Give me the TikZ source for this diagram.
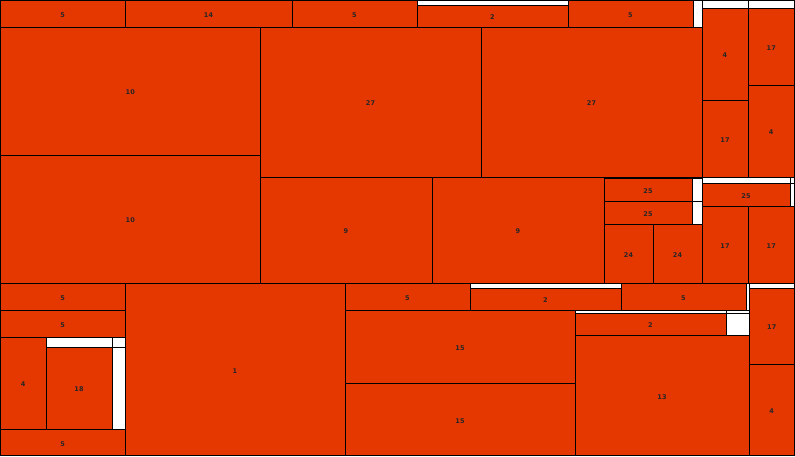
\documentclass[tikz,border=0pt]{standalone}
\usepackage{fontspec}
\setmainfont{DejaVu Sans}
\definecolor{tmred}{RGB}{229,55,0}
\tikzset{
  tmcell/.style={draw=black, line width=0.9pt, fill=tmred},
  tmwhite/.style={draw=black, line width=0.9pt, fill=white},
  tmlabel/.style={font=\fontsize{6.5}{6.5}\selectfont\bfseries, text=black!85, inner sep=0pt}
}
\newcommand\tmc[5]{%
  \path[tmcell] (#1,#2) rectangle (#3,#4);
  \node[tmlabel] (n#1x#2) at ({(#1+#3)/2},{(#2+#4)/2+1.5}) {#5};}
\newcommand\tmw[4]{\path[tmwhite] (#1,#2) rectangle (#3,#4);}
\begin{document}
\begin{tikzpicture}[x=1pt,y=-1pt]
\useasboundingbox (0,0) rectangle (795,456);
\begin{scope}
\clip (0,0) rectangle (795,456);
% top row
\tmc{0.5}{0.5}{125}{27}{5}
\tmc{125}{0.5}{292}{27}{14}
\tmc{292}{0.5}{417}{27}{5}
\tmw{417}{0.5}{568}{27}
\tmc{417}{5}{568}{27}{2}
\tmc{568}{0.5}{693}{27}{5}
\tmw{693}{0.5}{702}{27}
% right column top
\tmw{702}{0.5}{748}{8}
\tmw{748}{0.5}{794.5}{8}
\tmc{702}{8}{748}{100}{4}
\tmc{702}{100}{748}{177}{17}
\tmc{748}{8}{794.5}{85}{17}
\tmc{748}{85}{794.5}{177}{4}
% middle
\tmc{0.5}{27}{260}{155}{10}
\tmc{0.5}{155}{260}{283}{10}
\tmc{260}{27}{481}{177}{27}
\tmc{481}{27}{702}{177}{27}
\tmc{260}{177}{432}{283}{9}
\tmc{432}{177}{604}{283}{9}
\tmw{604}{177}{702}{224}
\tmc{604}{178}{692}{201}{25}
\tmc{604}{201}{692}{224}{25}
\tmw{692}{178}{702}{201}
\tmw{692}{201}{702}{224}
\tmc{604}{224}{653}{283}{24}
\tmc{653}{224}{702}{283}{24}
\tmw{702}{177}{790}{183}
\tmw{790}{177}{794.5}{183}
\tmc{702}{183}{790}{206}{25}
\tmw{790}{183}{794.5}{206}
\tmc{702}{206}{748}{283}{17}
\tmc{748}{206}{794.5}{283}{17}
% bottom left
\tmc{0.5}{283}{125}{310}{5}
\tmc{0.5}{310}{125}{337}{5}
\tmc{0.5}{337}{46}{429}{4}
\tmw{46}{337}{112}{347}
\tmw{112}{337}{125}{347}
\tmw{112}{347}{125}{429}
\tmc{46}{347}{112}{429}{18}
\tmc{0.5}{429}{125}{455.5}{5}
\tmc{125}{283}{345}{455.5}{1}
% bottom middle
\tmc{345}{283}{470}{310}{5}
\tmw{470}{283}{621}{310}
\tmc{470}{288}{621}{310}{2}
\tmc{621}{283}{746}{310}{5}
\tmw{746}{283}{749}{310}
\tmw{749}{283}{794.5}{288}
\tmc{749}{288}{794.5}{364}{17}
\tmc{749}{364}{794.5}{455.5}{4}
\tmc{345}{310}{575}{383}{15}
\tmc{345}{383}{575}{455.5}{15}
\tmw{575}{310}{726}{313}
\tmw{726}{310}{749}{313}
\tmw{726}{313}{749}{335}
\tmc{575}{313}{726}{335}{2}
\tmc{575}{335}{749}{455.5}{13}
\end{scope}
\end{tikzpicture}
\end{document}
